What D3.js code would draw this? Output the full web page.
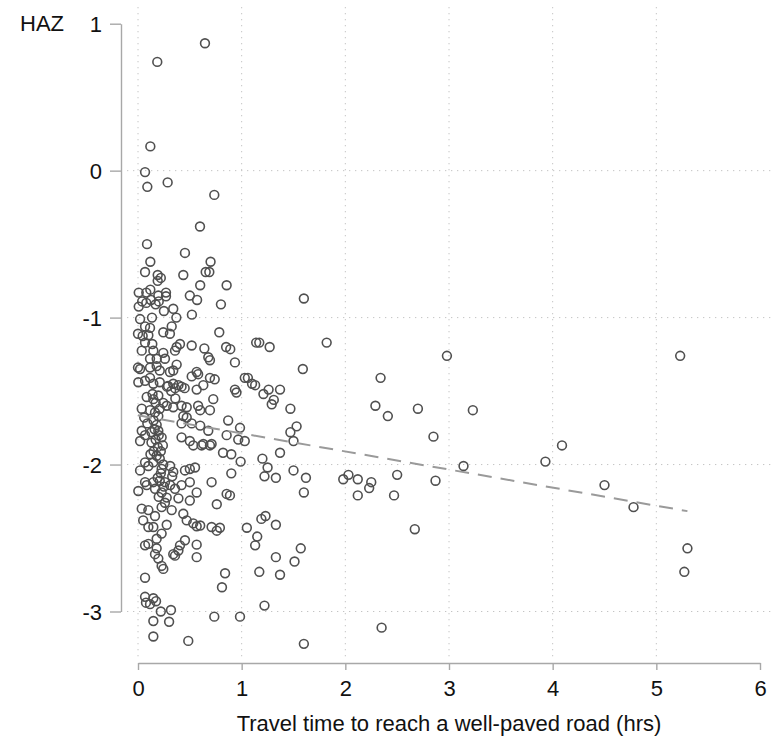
<!DOCTYPE html>
<html>
<head>
<meta charset="utf-8">
<script src="https://cdn.jsdelivr.net/npm/d3@7"></script>
<style>
  html, body { margin: 0; padding: 0; background: #fff; }
  svg { display: block; font-family: "Liberation Sans", Arial, Helvetica, sans-serif; }
</style>
</head>
<body>
<svg id="chart" width="775" height="743"></svg>
<script>
// ---- data ----
const travelTime = [
0.646,0.186,0.119,0.068,0.286,0.09,0.736,0.598,0.087,0.453,0.119,0.70,0.068,0.437,0.653,0.688,0.19,0.22,0.19,0.855,0.60,0.007,0.08,0.119,0.196,0.27,0.27,0.50,0.57,0.80,0.007,0.04,0.08,0.125,0.17,0.20,0.25,0.34,0.37,0.52,0.02,0.135,
0.068,0.116,0.325,0.244,0.308,0.0,0.045,0.10,0.784,0.068,0.138,0.405,0.373,0.518,0.64,0.85,0.89,0.036,0.148,0.244,0.357,0.678,0.694,0.935,0.0,0.02,0.116,0.18,0.26,0.116,0.18,0.21,0.373,0.308,0.34,0.566,0.518,0.58,0.694,0.74,0.003,0.068,0.116,0.148,0.21,0.29,0.34,0.39,0.42,0.45,0.357,0.566,0.63,0.935,0.95,1.03,1.06,1.10,0.084,0.148,0.196,0.244,0.277,0.34,0.42,0.47,0.58,0.60,0.726,0.694,0.036,0.116,0.164,0.196,0.437,0.47,0.87,0.984,0.42,0.518,0.60,0.678,0.036,0.068,0.13,0.196,0.228,0.42,0.50,0.63,0.71,0.855,0.967,1.03,0.02,0.13,
0.533,0.614,0.694,0.82,0.90,0.99,0.068,0.10,0.02,0.148,0.21,0.244,0.31,0.228,0.34,0.453,0.50,0.55,0.90,0.003,0.068,0.084,0.148,0.21,0.26,0.31,0.357,0.164,0.228,0.277,0.42,0.50,0.566,0.39,0.50,0.71,0.855,0.887,0.76,0.036,0.10,0.164,0.228,0.325,0.437,0.47,0.05,0.10,0.148,0.277,0.533,0.566,0.60,0.71,0.76,0.79,1.05,0.228,0.453,0.068,0.10,0.18,0.18,0.164,0.405,0.39,0.357,0.34,0.566,0.566,0.196,0.228,0.244,0.068,0.84,
0.81,0.068,0.148,0.174,0.077,0.116,0.22,0.318,0.148,0.30,0.736,0.984,0.148,0.485,
0.15,0.18,0.16,0.20,0.17,0.19,0.15,0.18,0.22,0.24,0.14,0.17,0.21,0.22,0.19,0.25,0.20,0.26,0.06,0.09,0.12,0.32,0.36,0.33,0.28,
1.60,1.82,1.17,1.14,1.27,1.59,2.98,2.34,1.13,1.21,1.26,1.37,1.31,1.29,1.47,2.29,2.41,2.70,2.85,1.53,1.47,1.50,1.37,1.20,1.25,1.50,1.22,1.33,1.62,1.60,2.03,1.98,2.12,2.25,2.23,2.12,2.47,2.50,2.87,2.67,1.19,1.23,1.33,1.15,1.13,1.57,1.33,1.51,1.17,1.37,1.22,2.35,1.60,
5.23,3.23,3.14,3.93,4.09,4.50,4.78,5.30,5.27
];
const haz = [
0.867,0.74,0.165,-0.01,-0.08,-0.11,-0.165,-0.38,-0.50,-0.56,-0.62,-0.62,-0.69,-0.71,-0.69,-0.69,-0.71,-0.73,-0.75,-0.78,-0.78,-0.83,-0.83,-0.81,-0.85,-0.83,-0.855,-0.85,-0.88,-0.91,-0.925,-0.89,-0.90,-0.88,-0.91,-0.89,-0.955,-0.94,-1.0,-0.98,-1.01,-1.0,
-1.06,-1.07,-1.06,-1.10,-1.11,-1.11,-1.125,-1.12,-1.10,-1.17,-1.18,-1.18,-1.20,-1.19,-1.21,-1.20,-1.215,-1.225,-1.225,-1.24,-1.225,-1.27,-1.29,-1.305,-1.34,-1.35,-1.28,-1.28,-1.28,-1.34,-1.33,-1.36,-1.32,-1.37,-1.36,-1.37,-1.40,-1.385,-1.41,-1.42,-1.44,-1.43,-1.41,-1.45,-1.44,-1.465,-1.45,-1.46,-1.47,-1.48,-1.48,-1.49,-1.46,-1.49,-1.51,-1.41,-1.41,-1.45,-1.54,-1.555,-1.53,-1.58,-1.60,-1.61,-1.60,-1.61,-1.60,-1.63,-1.555,-1.63,-1.62,-1.63,-1.645,-1.67,-1.67,-1.68,-1.70,-1.75,-1.72,-1.72,-1.735,-1.77,-1.77,-1.80,-1.78,-1.77,-1.815,-1.815,-1.84,-1.86,-1.86,-1.80,-1.83,-1.84,-1.84,-1.85,
-1.87,-1.87,-1.87,-1.92,-1.93,-1.98,-1.985,-2.01,-2.04,-1.985,-1.96,-2.0,-2.01,-2.03,-2.05,-2.04,-2.03,-2.02,-2.06,-2.18,-2.12,-2.14,-2.12,-2.11,-2.12,-2.14,-2.165,-2.165,-2.19,-2.225,-2.14,-2.12,-2.19,-2.23,-2.245,-2.12,-2.20,-2.21,-2.27,-2.30,-2.31,-2.35,-2.29,-2.31,-2.335,-2.38,-2.38,-2.425,-2.425,-2.41,-2.40,-2.42,-2.415,-2.425,-2.45,-2.43,-2.43,-2.47,-2.515,-2.55,-2.54,-2.505,-2.57,-2.61,-2.55,-2.585,-2.62,-2.61,-2.545,-2.63,-2.64,-2.69,-2.71,-2.77,-2.74,
-2.835,-2.90,-2.91,-2.93,-2.94,-2.95,-3.0,-2.99,-3.065,-3.07,-3.035,-3.035,-3.17,-3.20,
-1.70,-1.73,-1.76,-1.80,-1.83,-1.88,-1.91,-1.94,-1.91,-1.87,-1.52,-1.58,-1.62,-2.06,-2.09,-2.15,-2.22,-2.26,-1.68,-1.72,-1.93,-1.50,-1.55,-2.08,-1.47,
-0.87,-1.17,-1.17,-1.17,-1.20,-1.35,-1.26,-1.41,-1.46,-1.52,-1.49,-1.49,-1.56,-1.59,-1.62,-1.60,-1.67,-1.62,-1.81,-1.74,-1.78,-1.84,-1.92,-1.96,-2.02,-2.04,-2.08,-2.09,-2.09,-2.19,-2.07,-2.10,-2.10,-2.12,-2.16,-2.21,-2.21,-2.07,-2.11,-2.44,-2.37,-2.35,-2.41,-2.49,-2.55,-2.57,-2.63,-2.66,-2.73,-2.75,-2.96,-3.11,-3.22,
-1.26,-1.63,-2.01,-1.98,-1.87,-2.14,-2.29,-2.57,-2.73
];
const fitX = [0.0, 5.30];
const fitY = [-1.665, -2.317];
const xTicks = [0, 1, 2, 3, 4, 5, 6];
const yTicks = [-3, -2, -1, 0, 1];
const xGrid = [0, 1, 2, 3, 4, 5];
const yGrid = [-3, -2, -1, 0];
const xTitle = "Travel time to reach a well-paved road (hrs)";
const yTitle = "HAZ";

// ---- drawing ----
const svg = d3.select("#chart");
const x = d3.scaleLinear().domain([0, 6]).range([138, 760]);
const y = d3.scaleLinear().domain([-3, 1]).range([611.5, 23.7]);
const gridTop = 7, gridBottom = 658, gridLeft = 127, gridRight = 775;
const axisX = 121, axisY = 663;
const fontSize = 22;
const fmt = d => String(d);  // plain ASCII hyphen-minus like the reference

// grid
svg.append("g").selectAll("line").data(xGrid).join("line")
  .attr("x1", d => x(d)).attr("x2", d => x(d))
  .attr("y1", gridTop).attr("y2", gridBottom)
  .attr("stroke", "#c4c4c4").attr("stroke-width", 1).attr("stroke-dasharray", "1.3,4.7");
svg.append("g").selectAll("line").data(yGrid).join("line")
  .attr("x1", gridLeft).attr("x2", gridRight)
  .attr("y1", d => y(d)).attr("y2", d => y(d))
  .attr("stroke", "#c4c4c4").attr("stroke-width", 1).attr("stroke-dasharray", "1.3,4.7");

// axes
const yAxis = svg.append("g").attr("transform", `translate(${axisX},0)`)
  .call(d3.axisLeft(y).tickValues(yTicks).tickSize(11).tickSizeOuter(0).tickPadding(8).tickFormat(fmt));
const xAxis = svg.append("g").attr("transform", `translate(0,${axisY})`)
  .call(d3.axisBottom(x).tickValues(xTicks).tickSize(7).tickSizeOuter(0).tickPadding(10).tickFormat(fmt));
[yAxis, xAxis].forEach(g => {
  g.select(".domain").attr("stroke", "#a8a8a8").attr("stroke-width", 1.4);
  g.selectAll(".tick line").attr("stroke", "#a8a8a8").attr("stroke-width", 1.4);
  g.selectAll(".tick text").attr("fill", "#111").style("font-size", fontSize + "px")
    .style("font-family", '"Liberation Sans", Arial, Helvetica, sans-serif');
});
xAxis.selectAll(".tick text").attr("dy", null).attr("y", null)
  .attr("transform", `translate(0,${696 - axisY})`).attr("dominant-baseline", "alphabetic");
yAxis.selectAll(".tick text").attr("dy", "0.36em");

// axis titles
svg.append("text").attr("x", (x(0) + x(6)) / 2).attr("y", 731)
  .attr("text-anchor", "middle").style("font-size", fontSize + "px").attr("fill", "#111").text(xTitle);
svg.append("text").attr("x", 20).attr("y", 31)
  .attr("text-anchor", "start").style("font-size", fontSize + "px").attr("fill", "#111").text(yTitle);

// points
const pts = travelTime.map((t, i) => ({ t, h: haz[i] }));
svg.append("g").selectAll("circle").data(pts).join("circle")
  .attr("cx", d => x(d.t)).attr("cy", d => y(d.h)).attr("r", 4.4)
  .attr("fill", "none").attr("stroke", "#505050").attr("stroke-width", 1.6);

// fitted line
const fit = fitX.map((fx, i) => [fx, fitY[i]]);
svg.append("path").datum(fit)
  .attr("d", d3.line().x(d => x(d[0])).y(d => y(d[1])))
  .attr("fill", "none").attr("stroke", "#9a9a9a").attr("stroke-width", 2)
  .attr("stroke-dasharray", "14,9");
</script>
</body>
</html>
